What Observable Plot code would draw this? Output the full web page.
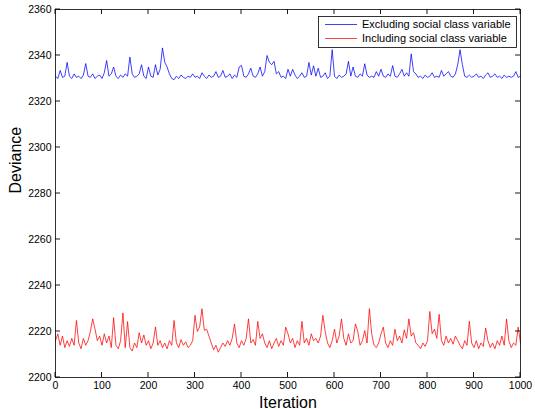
<!DOCTYPE html>
<html>
<head>
<meta charset="utf-8">
<script src="https://cdn.jsdelivr.net/npm/d3@7"></script>
<script src="https://cdn.jsdelivr.net/npm/@observablehq/plot@0.6"></script>
<style>
  html, body { margin: 0; padding: 0; background: white; }
  svg { display: block; }
</style>
</head>
<body>
<div id="chart"></div>
<script>
// Iterations sampled every 5 steps (0..1000)
const iterationStep = 5;
const iterations = d3.range(0, 1001, iterationStep);

const seriesNames = ["Excluding social class variable", "Including social class variable"];

const excludingValues = [
  2331, 2330, 2333.5, 2330.5, 2331, 2337, 2331, 2330, 2332, 2330.5,
  2331, 2330, 2331.5, 2336.5, 2331, 2330.5, 2332, 2330, 2331, 2331.5,
  2330, 2332.5, 2337.8, 2331, 2332, 2335, 2331, 2330, 2331.5, 2330.5,
  2332, 2331, 2339.3, 2332, 2330.5, 2331, 2332, 2336, 2331, 2330,
  2335, 2331, 2330.5, 2336, 2331.5, 2334, 2343.3, 2337, 2335, 2332,
  2330, 2329.5, 2331, 2330, 2331.5, 2330.5, 2330, 2331, 2330.5, 2332,
  2330.5, 2331, 2330, 2332.5, 2331, 2330, 2331.5, 2330.5, 2331, 2333,
  2330.5, 2331, 2333.5, 2330.5, 2331, 2332, 2330, 2331.5, 2330.5, 2335,
  2335.7, 2331, 2330.5, 2332, 2334.5, 2331, 2330.5, 2332, 2335, 2331,
  2333, 2340, 2337, 2336, 2337.5, 2332, 2333, 2330.5, 2331, 2330,
  2334, 2331, 2334, 2331.5, 2330, 2331, 2332.5, 2330.5, 2331, 2337,
  2331.5, 2335.5, 2331, 2334.5, 2330.5, 2331, 2332.5, 2330, 2331, 2342.5,
  2331, 2330, 2331.5, 2330.5, 2331, 2332, 2337.5, 2331, 2335, 2331,
  2330.5, 2332, 2331, 2336.4, 2331.5, 2330.5, 2331, 2330.5, 2333, 2331,
  2334, 2331, 2330.5, 2332, 2331, 2335.6, 2331, 2330.5, 2332, 2334,
  2331, 2332.5, 2331, 2340.7, 2333, 2332, 2330.5, 2331, 2330, 2331.5,
  2330.5, 2331, 2332.5, 2330.5, 2331, 2330.5, 2333.5, 2331, 2332, 2333,
  2331, 2330.5, 2332, 2336, 2342.5, 2336, 2331, 2330.5, 2331.5, 2330.5,
  2331, 2332, 2330.5, 2331, 2330, 2331.5, 2332.5, 2330.5, 2331, 2332,
  2330.5, 2331, 2330, 2331.5, 2330.5, 2331, 2330.5, 2331, 2333, 2330.5,
  2331
];

const includingValues = [
  2216, 2219, 2214, 2218, 2213, 2216, 2213.5, 2217, 2214, 2224.8,
  2215, 2212.5, 2217, 2214, 2216, 2220, 2225.5, 2221, 2216, 2218,
  2214, 2219, 2215, 2218, 2213, 2226, 2214, 2212.5, 2216, 2228.1,
  2213, 2224.3, 2213, 2211.5, 2215, 2213, 2219.5, 2215, 2218.5, 2214,
  2216, 2212.5, 2215, 2222, 2214, 2216, 2213, 2215, 2212.5, 2216,
  2214, 2224.8, 2215, 2213, 2216.5, 2214, 2215.5, 2213, 2214, 2216,
  2227, 2220, 2222, 2229.9, 2220.5, 2221, 2218, 2215, 2212, 2214,
  2211, 2213, 2215, 2213.5, 2216, 2214, 2217, 2223.3, 2215, 2213,
  2216, 2214, 2217, 2225.5, 2215, 2216.5, 2214, 2224.4, 2217, 2219,
  2215, 2213, 2216, 2212.5, 2215, 2217, 2213.5, 2216, 2214, 2221.9,
  2219, 2215, 2217, 2213, 2216, 2214, 2224.4, 2215, 2217, 2214,
  2219, 2216, 2217, 2215, 2218, 2227, 2220, 2215, 2213, 2216,
  2221, 2215, 2218, 2225.5, 2217, 2214, 2219, 2215, 2216, 2223.3,
  2220, 2214, 2216, 2220.4, 2215, 2229.9, 2219, 2214, 2213, 2215,
  2219, 2221.9, 2215, 2213, 2216, 2214, 2221, 2216, 2218, 2215,
  2220.7, 2217, 2225.5, 2218, 2219.5, 2215, 2214, 2212.5, 2215, 2213.5,
  2216, 2228.7, 2219, 2221, 2217, 2227.5, 2216, 2214, 2218, 2215,
  2217, 2214.5, 2218, 2216, 2214, 2212.5, 2216, 2214, 2224.4, 2215,
  2213, 2216, 2212.5, 2215, 2213.5, 2221.5, 2216, 2213, 2215, 2212.5,
  2216, 2214, 2218, 2214, 2225.5, 2216, 2213, 2215, 2214, 2221.9,
  2215
];

const xTicks = [0, 100, 200, 300, 400, 500, 600, 700, 800, 900, 1000];
const yTicks = [2200, 2220, 2240, 2260, 2280, 2300, 2320, 2340, 2360];
const seriesColors = ["#0000ff", "#ff0000"];

const rows = [];
iterations.forEach((it, i) => {
  rows.push({iteration: it, deviance: excludingValues[i], series: seriesNames[0]});
});
iterations.forEach((it, i) => {
  rows.push({iteration: it, deviance: includingValues[i], series: seriesNames[1]});
});

const font = "Helvetica, 'Liberation Sans', Arial, sans-serif";

const chart = Plot.plot({
  width: 535,
  height: 409,
  marginLeft: 55,
  marginRight: 15,
  marginTop: 9,
  marginBottom: 32,
  style: {fontFamily: font, fontSize: "10.5px", background: "white", color: "black", overflow: "visible"},
  x: {domain: [0, 1000]},
  y: {domain: [2200, 2360]},
  color: {domain: seriesNames, range: seriesColors},
  marks: [
    Plot.line(rows, {x: "iteration", y: "deviance", z: "series", stroke: "series", strokeWidth: 0.75}),
    Plot.frame({stroke: "black", strokeWidth: 0.8}),
    Plot.axisX(xTicks, {tickSize: 0, tickPadding: 4, label: null, tickFormat: d => String(d)}),
    Plot.axisY(yTicks, {tickSize: 0, tickPadding: 4, label: null, tickFormat: d => String(d)}),
    Plot.text(["Iteration"], {frameAnchor: "bottom", dy: 30, lineAnchor: "bottom", fontSize: 16, fill: "black"}),
    Plot.text(["Deviance"], {frameAnchor: "left", dx: -40, rotate: -90, fontSize: 16, fill: "black"})
  ]
});

document.getElementById("chart").appendChild(chart);

// Inward ticks on all four sides (MATLAB box style), positioned via Plot's scales
const sx = chart.scale("x");
const sy = chart.scale("y");
const x0 = sx.range[0], x1 = sx.range[1];
const yb = sy.range[0], yt = sy.range[1];
const svg = d3.select(chart);
const tg = svg.append("g").attr("stroke", "black").attr("stroke-width", 0.9);
const tickLen = 5;
xTicks.forEach(v => {
  const px = sx.apply(v);
  tg.append("line").attr("x1", px).attr("x2", px).attr("y1", yb).attr("y2", yb - tickLen);
  tg.append("line").attr("x1", px).attr("x2", px).attr("y1", yt).attr("y2", yt + tickLen);
});
yTicks.forEach(v => {
  const py = sy.apply(v);
  tg.append("line").attr("x1", x0).attr("x2", x0 + tickLen).attr("y1", py).attr("y2", py);
  tg.append("line").attr("x1", x1).attr("x2", x1 - tickLen).attr("y1", py).attr("y2", py);
});

// Legend inside the plot, top-right (MATLAB style)
const lg = svg.append("g").attr("font-family", font).attr("font-size", 11).attr("text-anchor", "start");
lg.append("rect")
  .attr("x", 318.5).attr("y", 16.5).attr("width", 198).attr("height", 31)
  .attr("fill", "white").attr("stroke", "black").attr("stroke-width", 0.8);
seriesNames.forEach((name, i) => {
  const yy = 24.5 + i * 14;
  lg.append("line")
    .attr("x1", 325).attr("x2", 357).attr("y1", yy).attr("y2", yy)
    .attr("stroke", seriesColors[i]).attr("stroke-width", 0.75);
  lg.append("text")
    .attr("x", 362).attr("y", yy).attr("dy", "0.35em")
    .attr("text-anchor", "start")
    .attr("fill", "black").text(name);
});
</script>
</body>
</html>
